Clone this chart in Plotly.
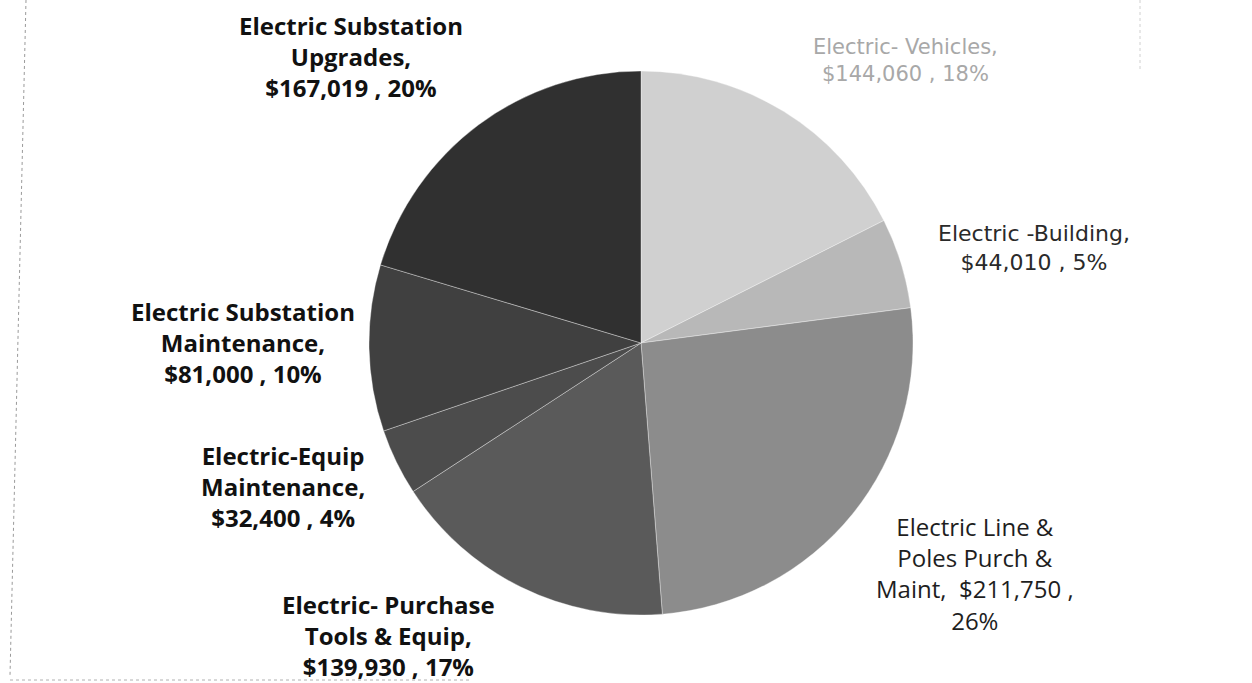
import plotly.graph_objects as go

# Electric department budget categories, in slice order (clockwise from 12 o'clock)
categories = [
    "Electric- Vehicles",
    "Electric -Building",
    "Electric Line & Poles Purch & Maint",
    "Electric- Purchase Tools & Equip",
    "Electric-Equip Maintenance",
    "Electric Substation Maintenance",
    "Electric Substation Upgrades",
]
amounts = [144060, 44010, 211750, 139930, 32400, 81000, 167019]

# How each data label is wrapped ({v} = amount, {p} = percent)
label_formats = [
    "Electric- Vehicles,<br>{v} , {p}%",
    "Electric -Building,<br>{v} , {p}%",
    "Electric Line &<br>Poles Purch &<br>Maint,  {v} ,<br>{p}%",
    "Electric- Purchase<br>Tools & Equip,<br>{v} , {p}%",
    "Electric-Equip<br>Maintenance,<br>{v} , {p}%",
    "Electric Substation<br>Maintenance,<br>{v} , {p}%",
    "Electric Substation<br>Upgrades,<br>{v} , {p}%",
]

slice_colors = ["#d0d0d0", "#b8b8b8", "#8c8c8c", "#5a5a5a", "#4c4c4c", "#404040", "#303030"]

# Label placement (paper coords) and styling
label_xy = [
    (0.723, 0.912),
    (0.826, 0.637),
    (0.779, 0.160),
    (0.310, 0.069),
    (0.226, 0.287),
    (0.194, 0.498),
    (0.280, 0.918),
]
label_fonts = [
    dict(family="DejaVu Sans", size=21, color="#a8a8a8"),
    dict(family="DejaVu Sans", size=22, color="#2a2a2a"),
    dict(family="Open Sans", size=24, color="#1e1e1e"),
    dict(family="Open Sans", size=24, color="#111111"),
    dict(family="Open Sans", size=24, color="#111111"),
    dict(family="Open Sans", size=24, color="#111111"),
    dict(family="Open Sans", size=24, color="#111111"),
]
label_bold = [False, False, False, True, True, True, True]

W, H = 1252, 683
cx, cy, r = 641, 343, 272

total = sum(amounts)

fig = go.Figure(
    go.Pie(
        labels=categories,
        values=amounts,
        sort=False,
        direction="clockwise",
        rotation=0,
        textinfo="none",
        hoverinfo="label+value+percent",
        marker=dict(colors=slice_colors, line=dict(color="rgba(255,255,255,0.35)", width=1)),
        domain=dict(
            x=[(cx - r) / W, (cx + r) / W],
            y=[1 - (cy + r) / H, 1 - (cy - r) / H],
        ),
        showlegend=False,
    )
)

for fmt, (x, y), font, bold, val in zip(label_formats, label_xy, label_fonts, label_bold, amounts):
    pct = round(val / total * 100)
    txt = fmt.format(v=f"${val:,}", p=pct)
    if bold:
        txt = "<b>" + txt + "</b>"
    fig.add_annotation(
        x=x, y=y, xref="paper", yref="paper",
        text=txt, showarrow=False, align="center",
        xanchor="center", yanchor="middle", font=font,
    )

# faint page border lines along the left and bottom edges
fig.add_shape(type="line", xref="paper", yref="paper",
              x0=26 / W, y0=1.0, x1=10 / W, y1=1 - 676 / H,
              line=dict(color="#9a9a9a", width=1, dash="dot"))
fig.add_shape(type="line", xref="paper", yref="paper",
              x0=10 / W, y0=1 - 680 / H, x1=470 / W, y1=1 - 680 / H,
              line=dict(color="#b0b0b0", width=1, dash="dot"))
fig.add_shape(type="line", xref="paper", yref="paper",
              x0=1140 / W, y0=1.0, x1=1140 / W, y1=1 - 70 / H,
              line=dict(color="#d0d0d0", width=1, dash="dot"))

fig.update_layout(
    width=W, height=H,
    margin=dict(l=0, r=0, t=0, b=0),
    paper_bgcolor="white",
    plot_bgcolor="white",
)

fig.write_html("out.html")
